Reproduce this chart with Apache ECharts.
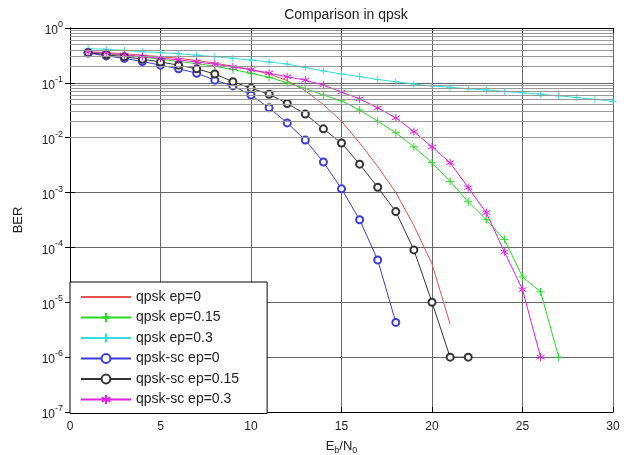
<!DOCTYPE html>
<html>
<head>
<meta charset="utf-8">
<script src="https://cdn.jsdelivr.net/npm/echarts@6/dist/echarts.min.js"></script>
<style>
    html, body { margin: 0; padding: 0; background: #fff; }
    #myChart { width: 629px; height: 455px; }
</style>
</head>
<body>
<div id="myChart"></div>
<script>
// Eb/N0 (dB) points, every curve starts at 1
const snr = [1, 2, 3, 4, 5, 6, 7, 8, 9, 10, 11, 12, 13, 14, 15,
             16, 17, 18, 19, 20, 21, 22, 23, 24, 25, 26, 27, 28, 29, 30]

// BER
const qpsk_ep0 = [0.37, 0.355, 0.34, 0.32, 0.30, 0.28, 0.255, 0.23, 0.20, 0.175,
                  0.145, 0.11, 0.072, 0.04, 0.02, 0.008, 0.003, 0.001, 2.5e-4, 5e-5, 4e-6]
const qpsk_ep015 = [0.355, 0.34, 0.315, 0.295, 0.27, 0.245, 0.225, 0.2, 0.175, 0.15,
                    0.126, 0.1, 0.079, 0.06, 0.047, 0.032, 0.02, 0.0123, 0.0068, 0.0035,
                    0.0016, 6.8e-4, 3.2e-4, 1.4e-4, 2.9e-5, 1.55e-5, 1e-6]
const qpsk_ep03 = [0.42, 0.41, 0.39, 0.37, 0.355, 0.34, 0.32, 0.30, 0.28, 0.26,
                   0.24, 0.22, 0.19, 0.165, 0.145, 0.13, 0.115, 0.105, 0.095, 0.088,
                   0.083, 0.078, 0.074, 0.07, 0.066, 0.062, 0.058, 0.054, 0.05, 0.046]
const qpsksc_ep0 = [0.35, 0.31, 0.28, 0.245, 0.21, 0.18, 0.15, 0.112, 0.088, 0.06,
                    0.035, 0.0186, 0.0091, 0.0036, 0.00117, 3.2e-4, 5.9e-5, 4.3e-6]
const qpsksc_ep015 = [0.355, 0.325, 0.30, 0.27, 0.24, 0.21, 0.18, 0.145, 0.105, 0.08,
                      0.062, 0.042, 0.027, 0.0145, 0.008, 0.0033, 0.00125, 4.5e-4, 9e-5, 1e-5,
                      1e-6, 1e-6]
const qpsksc_ep03 = [0.363, 0.347, 0.324, 0.302, 0.282, 0.263, 0.24, 0.219, 0.195, 0.174,
                     0.151, 0.129, 0.112, 0.091, 0.068, 0.051, 0.035, 0.023, 0.0129, 0.0068,
                     0.0035, 0.00123, 4.3e-4, 8.3e-5, 1.7e-5, 1e-6]

const x_ticks = [0, 5, 10, 15, 20, 25, 30]
const decades = [-7, -6, -5, -4, -3, -2, -1, 0]

const font = 'Liberation Sans'

function to_pairs (vals) {
    return vals.map((v, i) => [snr[i], v])
}

// matlab style minor grid 2..9 x 10^k
const minor_lines = []
for (let k = decades[0]; k < 0; k++) {
    for (let m = 2; m <= 9; m++) {
        minor_lines.push({ yAxis: m * Math.pow(10, k) })
    }
}

const plus_icon = 'path://M0,-5L0,5M-5,0L5,0'
const star_icon = 'path://M0,-5L0,5M-4.3,-2.5L4.3,2.5M-4.3,2.5L4.3,-2.5'

function make_series (name, vals, color, symbol, size) {
    const no_marker = symbol === 'none'
    return {
        name: name,
        type: 'line',
        data: to_pairs(vals),
        symbol: no_marker ? 'circle' : symbol,
        symbolSize: size,
        showSymbol: !no_marker,
        lineStyle: { color: color, width: 1 },
        itemStyle: no_marker
            ? { color: 'rgba(0,0,0,0)', borderWidth: 0 }
            : { color: color, borderColor: color, borderWidth: 1 },
        z: 3
    }
}

const chartDom = document.getElementById('myChart')
const myChart = echarts.init(chartDom)

let option = {
    animation: false,
    backgroundColor: '#fff',
    textStyle: { fontFamily: font },
    title: {
        text: 'Comparison in qpsk',
        left: 341,
        top: 3,
        textAlign: 'center',
        textStyle: { fontFamily: font, fontSize: 14, fontWeight: 'normal', color: '#222' }
    },
    grid: { left: 70, right: 16, top: 28, bottom: 43, outerBoundsMode: 'none' },
    legend: {
        orient: 'vertical',
        left: 70,
        top: 282,
        itemWidth: 50,
        itemHeight: 11,
        itemGap: 6.5,
        padding: [8, 28, 7, 10],
        backgroundColor: '#fff',
        borderColor: '#000',
        borderWidth: 1,
        textStyle: { fontFamily: font, fontSize: 14, color: '#222' },
        data: ['qpsk ep=0', 'qpsk ep=0.15', 'qpsk ep=0.3', 'qpsk-sc ep=0', 'qpsk-sc ep=0.15', 'qpsk-sc ep=0.3']
    },
    xAxis: [
        {
            type: 'value',
            min: x_ticks[0],
            max: x_ticks[x_ticks.length - 1],
            interval: 5,
            name: '{n|E}{s|b}{n|/N}{s|0}',
            nameLocation: 'middle',
            nameGap: 26,
            nameTextStyle: {
                rich: {
                    n: { fontFamily: font, fontSize: 13, color: '#222' },
                    s: { fontFamily: font, fontSize: 9, color: '#222', padding: [8, 0, 0, 0] }
                }
            },
            axisLine: { lineStyle: { color: '#000', width: 1 } },
            axisTick: { inside: true, length: 5, lineStyle: { color: '#000' } },
            axisLabel: { fontFamily: font, fontSize: 12, color: '#222', margin: 9 },
            splitLine: { show: true, lineStyle: { color: '#666', width: 1 } }
        },
        {
            type: 'value',
            position: 'top',
            min: x_ticks[0],
            max: x_ticks[x_ticks.length - 1],
            interval: 5,
            axisLine: { lineStyle: { color: '#000', width: 1 } },
            axisTick: { inside: true, length: 5, lineStyle: { color: '#000' } },
            axisLabel: { show: false },
            splitLine: { show: false }
        }
    ],
    yAxis: [
        {
            type: 'log',
            logBase: 10,
            min: Math.pow(10, decades[0]),
            max: 1,
            interval: 1,
            name: 'BER',
            nameLocation: 'middle',
            nameGap: 45,
            nameTextStyle: { fontFamily: font, fontSize: 13, color: '#222' },
            axisLine: { show: true, lineStyle: { color: '#000', width: 1 } },
            axisTick: { inside: true, length: 5, lineStyle: { color: '#000' } },
            axisLabel: {
                color: '#222',
                margin: 7,
                formatter: function (value) {
                    const e = Math.round(Math.log10(value))
                    return '{b|10}{e|' + e + '}'
                },
                rich: {
                    b: { fontFamily: font, fontSize: 12, color: '#222', verticalAlign: 'bottom', lineHeight: 18 },
                    e: { fontFamily: font, fontSize: 9, color: '#222', verticalAlign: 'bottom', lineHeight: 18, padding: [0, 0, 8, 0] }
                }
            },
            splitLine: { show: true, lineStyle: { color: '#666', width: 1 } }
        },
        {
            type: 'log',
            logBase: 10,
            position: 'right',
            min: Math.pow(10, decades[0]),
            max: 1,
            interval: 1,
            axisLine: { show: true, lineStyle: { color: '#000', width: 1 } },
            axisTick: { inside: true, length: 5, lineStyle: { color: '#000' } },
            axisLabel: { show: false },
            splitLine: { show: false }
        }
    ],
    series: [
        {
            name: 'minor grid',
            type: 'line',
            data: [],
            silent: true,
            z: 1,
            markLine: {
                silent: true,
                symbol: 'none',
                label: { show: false },
                lineStyle: { color: '#999', type: 'solid', width: 1 },
                data: minor_lines
            }
        },
        make_series('qpsk ep=0', qpsk_ep0, '#e8524a', 'none', 0),
        make_series('qpsk ep=0.15', qpsk_ep015, '#22dd22', plus_icon, 8),
        make_series('qpsk ep=0.3', qpsk_ep03, '#33dddd', plus_icon, 7),
        make_series('qpsk-sc ep=0', qpsksc_ep0, '#3a3adf', 'emptyCircle', 7),
        make_series('qpsk-sc ep=0.15', qpsksc_ep015, '#333333', 'emptyCircle', 7),
        make_series('qpsk-sc ep=0.3', qpsksc_ep03, '#e020e0', star_icon, 8)
    ]
}
option && myChart.setOption(option)
</script>
</body>
</html>
